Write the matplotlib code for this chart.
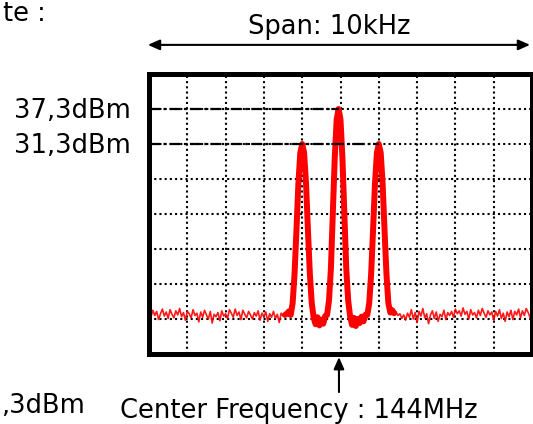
import numpy as np
import matplotlib
matplotlib.use("Agg")
import matplotlib.pyplot as plt

plt.rcParams["font.family"] = ["DejaVu Sans"]

# Data: sweep of 10 kHz around 144 MHz, offsets in kHz, levels in dBm
freq_start, freq_step, n_points = -5.0, 0.05, 201
noise_left = [
    2.4, 1.6, 2.8, 1.9, 2.6, 1.2, 2.2, 3.0, 1.8, 2.5, 1.4, 2.9, 2.1, 1.5, 2.7, 2.0, 3.1, 1.7, 2.4, 1.1,
    2.6, 2.2, 1.5, 2.9, 1.9, 2.3, 0.8, 2.5, 1.6, 2.8, 2.0, 1.3, 2.6, 0.6, 2.1, 1.7, 2.4, 1.0, 2.7, 1.8,
    2.2, 1.4, 2.9, 2.3, 1.6, 3.0, 1.9, 2.5, 1.2, 2.8, 2.1, 1.5, 2.6, 2.0, 1.3, 2.4, 1.8, 2.7, 1.1, 2.3,
    1.7, 2.5, 0.9, 2.2, 1.6, 2.6, 1.4, 2.1, 0.7, 2.3, 1.8, 2.0,
]
peaks_part = [
    2.2, 2.6, 2.0, 4.0, 9.0, 16.5, 24.5, 29.8, 31.3, 29.8, 24.5, 16.5, 9.0, 4.0,
    1.5, 0.4, 1.6, 0.2, 1.2, 0.5, 1.8, 2.0, 4.5, 10.0, 19.5, 29.0, 35.5, 37.3,
    35.5, 29.0, 19.5, 10.0, 4.5, 1.8, 0.3, 1.5, 0.1, 1.3, 0.6, 1.7, 0.9, 2.0,
    2.0, 4.0, 9.0, 16.5, 24.5, 29.8, 31.3, 29.8, 24.5, 16.5, 9.0, 4.0, 2.4, 2.8, 2.3,
]
noise_right = [
    2.5, 1.9, 2.2, 1.4, 2.0, 1.1, 2.3, 1.6, 2.9, 1.3, 2.4, 0.7, 2.6, 1.8, 3.1, 1.5, 2.2, 0.5, 2.0, 2.7,
    1.4, 2.5, 0.9, 2.1, 1.7, 2.8, 1.2, 2.4, 1.9, 2.6, 1.6, 3.0, 2.2, 2.7, 1.8, 3.2, 2.1, 2.6, 1.3, 2.9,
    2.0, 2.4, 1.5, 2.8, 1.9, 3.1, 2.3, 1.6, 2.7, 2.0, 2.5, 1.1, 2.6, 1.8, 2.9, 1.4, 2.3, 0.9, 2.5, 1.7,
    2.8, 1.2, 2.6, 2.0, 3.0, 1.5, 2.7, 1.9, 3.1, 2.4, 1.6, 0.4,
]
marker_levels = [37.3, 31.3]
marker_freqs = [-0.05, 1.0]
marker_labels = ["37,3dBm", "31,3dBm"]
ref_level = 43.3
db_per_div = 6

freq = freq_start + freq_step * np.arange(n_points)
level = np.array(noise_left + peaks_part + noise_right)

FS = 18.5
fig = plt.figure(figsize=(5.33, 4.24), dpi=100)
W, H = 533, 424
ax = fig.add_axes([149 / W, 1 - 354 / H, 383 / W, 280 / H])

# trace: thin noisy line everywhere, thick over the carrier region
ax.plot(freq, level, color="red", lw=1.2, alpha=0.9)
thick = (freq > -1.47) & (freq < 1.42)
ax.plot(freq[thick], level[thick], color="red", lw=4.3,
        solid_joinstyle="round", solid_capstyle="round")

# marker lines + labels
for lev, fx, lab in zip(marker_levels, marker_freqs, marker_labels):
    ax.plot([freq_start, fx], [lev, lev], color="black", lw=1.6,
            linestyle=(0, (5, 1.5, 1.2, 1.5)))
    ax.annotate(lab, xy=(0, lev), xycoords=ax.get_yaxis_transform(),
                xytext=(-13, -6.5), textcoords="offset points",
                ha="right", va="baseline", fontsize=FS)

ax.set_xlim(-5, 5)
ax.set_ylim(ref_level - 8 * db_per_div, ref_level)
ax.set_xticks(np.arange(-5, 5.01, 1))
ax.set_yticks(np.arange(ref_level - 8 * db_per_div, ref_level + 0.01, db_per_div))
ax.grid(True, color="black", lw=1.5, linestyle=(0, (1, 1.5)))
ax.tick_params(length=0, labelbottom=False, labelleft=False)
for s in ax.spines.values():
    s.set_linewidth(3.6)

# span arrow and text
ax.annotate("", xy=(-0.003, 1.104), xytext=(0.995, 1.104), xycoords="axes fraction",
            arrowprops=dict(arrowstyle="<|-|>,head_length=0.5,head_width=0.22",
                            color="black", lw=1.5, mutation_scale=14,
                            shrinkA=0, shrinkB=0), annotation_clip=False)
fig.text(329 / W, 1 - 34 / H, "Span: 10kHz", ha="center", va="baseline", fontsize=FS)

# center frequency arrow and text
ax.annotate("", xy=(0.496, -0.011), xytext=(0.496, -0.136), xycoords="axes fraction",
            arrowprops=dict(arrowstyle="-|>,head_length=0.5,head_width=0.22",
                            color="black", lw=1.5, mutation_scale=14,
                            shrinkA=0, shrinkB=0), annotation_clip=False)
fig.text(299 / W, 1 - 418 / H, "Center Frequency : 144MHz", ha="center", va="baseline",
         fontsize=FS)

# cut-off text from neighbouring content
fig.text(3 / W, 1 - 21 / H, "te :", ha="left", va="baseline", fontsize=FS)
fig.text(85 / W, 1 - 413 / H, ",3dBm", ha="right", va="baseline", fontsize=FS)

fig.savefig("out.png", dpi=100)
